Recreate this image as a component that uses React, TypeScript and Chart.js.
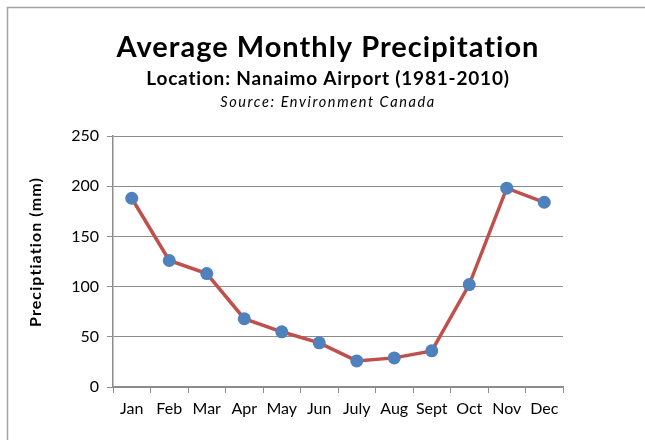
import React, { useEffect, useRef } from "react";
import { Chart, registerables } from "chart.js";

Chart.register(...registerables);

const months = ["Jan", "Feb", "Mar", "Apr", "May", "Jun", "July", "Aug", "Sept", "Oct", "Nov", "Dec"];
const precipitation = [188, 126, 113, 68, 55, 44, 26, 29, 36, 102, 198, 184];
const titleText = "Average Monthly Precipitation";
const subtitleText = "Location: Nanaimo Airport (1981-2010)";
const sourceText = "Source: Environment Canada";
const yAxisTitle = "Preciptiation (mm)";

const FONT = "Lato, 'Open Sans', sans-serif";

const headerPlugin = {
  id: "header",
  beforeDraw(chart: any) {
    const ctx = chart.ctx;
    ctx.save();
    ctx.fillStyle = "#ffffff";
    ctx.fillRect(0, 0, chart.width, chart.height);
    ctx.strokeStyle = "#a3a3a3";
    ctx.lineWidth = 1.5;
    ctx.beginPath();
    ctx.moveTo(7.5, chart.height + 2);
    ctx.lineTo(7.5, 7.5);
    ctx.lineTo(chart.width + 2, 7.5);
    ctx.stroke();
    ctx.restore();
  },
  afterDraw(chart: any) {
    const ctx = chart.ctx;
    const cx = 328;
    ctx.save();
    ctx.fillStyle = "#000000";
    ctx.textAlign = "center";
    ctx.textBaseline = "alphabetic";
    ctx.letterSpacing = "1px";
    ctx.font = `bold 29px ${FONT}`;
    ctx.fillText(titleText, cx, 57);
    ctx.letterSpacing = "0.8px";
    ctx.font = `bold 19px ${FONT}`;
    ctx.fillText(subtitleText, cx, 85);
    ctx.letterSpacing = "1.6px";
    ctx.font = `italic 14.5px ${FONT}`;
    ctx.fillText(sourceText, cx, 107);

    // y-axis title
    ctx.letterSpacing = "1.1px";
    ctx.font = `bold 16px ${FONT}`;
    ctx.textBaseline = "middle";
    ctx.translate(36, 252);
    ctx.rotate(-Math.PI / 2);
    ctx.fillText(yAxisTitle, 0, 0);
    ctx.restore();
  },
};

export default function App() {
  const ref = useRef<HTMLCanvasElement | null>(null);
  useEffect(() => {
    const canvas = ref.current;
    if (!canvas) return;
    const chart = new Chart(canvas, {
      type: "line",
      data: {
        labels: months,
        datasets: [
          {
            data: precipitation,
            borderColor: "#C0504D",
            borderWidth: 3.5,
            pointBackgroundColor: "#4F81BD",
            pointBorderColor: "#4F81BD",
            pointBorderWidth: 0,
            pointRadius: 6.5,
            tension: 0,
            fill: false,
          },
        ],
      },
      options: {
        responsive: false,
        animation: false,
        devicePixelRatio: 1,
        layout: { padding: { left: 0, right: 82, top: 136, bottom: 0 } },
        plugins: {
          legend: { display: false },
          title: { display: false },
          tooltip: { enabled: false },
        },
        scales: {
          x: {
            offset: true,
            grid: {
              display: true,
              offset: true,
              drawOnChartArea: false,
              drawTicks: true,
              tickLength: 6,
              color: "#8c8c8c",
              lineWidth: 1,
            },
            border: { display: true, color: "#8c8c8c", width: 1.5 },
            ticks: {
              color: "#000000",
              font: { family: FONT, size: 16 },
              padding: 6,
              maxRotation: 0,
              autoSkip: false,
            },
            afterFit(scale: any) {
              scale.height = 53;
            },
          },
          y: {
            min: 0,
            max: 250,
            ticks: {
              stepSize: 50,
              color: "#000000",
              font: { family: FONT, size: 16 },
              padding: 8,
            },
            grid: {
              color: "#8c8c8c",
              lineWidth: 1,
              drawTicks: true,
              tickLength: 6,
            },
            border: { display: true, color: "#8c8c8c", width: 1.5 },
            title: { display: false },
            afterFit(scale: any) {
              scale.width = 113;
            },
          },
        },
      },
      plugins: [headerPlugin],
    });
    return () => chart.destroy();
  }, []);

  return (
    <div style={{ position: "fixed", left: 0, top: 0, width: 645, height: 440, background: "#fff" }}>
      <canvas ref={ref} width={645} height={440} style={{ width: 645, height: 440, display: "block" }} />
    </div>
  );
}
